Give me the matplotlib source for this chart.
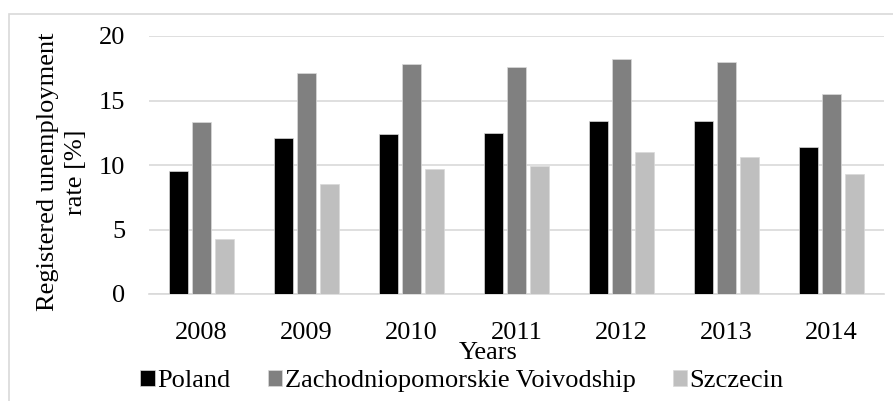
import numpy as np
import matplotlib.pyplot as plt
from matplotlib.patches import Rectangle

years = ['2008', '2009', '2010', '2011', '2012', '2013', '2014']
poland = [9.5, 12.1, 12.4, 12.5, 13.4, 13.4, 11.4]
zachodniopomorskie = [13.3, 17.1, 17.8, 17.6, 18.2, 18.0, 15.5]
szczecin = [4.3, 8.5, 9.7, 9.9, 11.0, 10.6, 9.3]

plt.rcParams['font.family'] = ['Liberation Serif', 'DejaVu Serif']

W, H = 893, 401
fig = plt.figure(figsize=(W / 100, H / 100), dpi=100)
fig.patches.append(Rectangle((9 / W, -0.1), 1.2, 1 - 14 / H + 0.1, transform=fig.transFigure,
                             fill=False, edgecolor='#d9d9d9', linewidth=1.2))

ax = fig.add_axes([149 / W, 1 - 294 / H, (884 - 149) / W, (294 - 36) / H])

x = np.arange(len(years))
step = 0.219
bw = 0.175
for i, (vals, col, lab) in enumerate([(poland, '#000000', 'Poland'),
                                     (zachodniopomorskie, '#808080', 'Zachodniopomorskie Voivodship'),
                                     (szczecin, '#bfbfbf', 'Szczecin')]):
    ax.bar(x + (i - 1) * step, vals, bw, color=col, edgecolor='#d9d9d9', linewidth=0.5,
           label=lab, zorder=3)

ax.set_xlim(-0.5, len(years) - 0.5)
ax.set_ylim(0, 20)
ax.set_yticks([0, 5, 10, 15, 20])
ax.set_xticks(x)
ax.set_xticklabels(years)
ax.yaxis.grid(True, color='#d9d9d9', linewidth=1.2, zorder=0)
for s in ['top', 'right', 'left']:
    ax.spines[s].set_visible(False)
ax.spines['bottom'].set_color('#d9d9d9')
ax.spines['bottom'].set_linewidth(1.2)
ax.tick_params(axis='both', length=0, labelsize=19)
ax.tick_params(axis='x', pad=20)
ax.tick_params(axis='y', pad=17)

fig.text(488 / W, 1 - 353 / H, 'Years', ha='center', va='center', fontsize=19)
fig.text(62 / W, 1 - 172 / H, 'Registered unemployment\nrate [%]', ha='center', va='center',
         rotation=90, fontsize=19, linespacing=1.3)

ax.legend(loc='center', bbox_to_anchor=(462 / W, 1 - 381 / H), bbox_transform=fig.transFigure,
          ncol=3, frameon=False, fontsize=19, handlelength=0.55, handleheight=0.55,
          handletextpad=0.1, columnspacing=1.4, borderpad=0)

fig.savefig('out.png', dpi=100)
